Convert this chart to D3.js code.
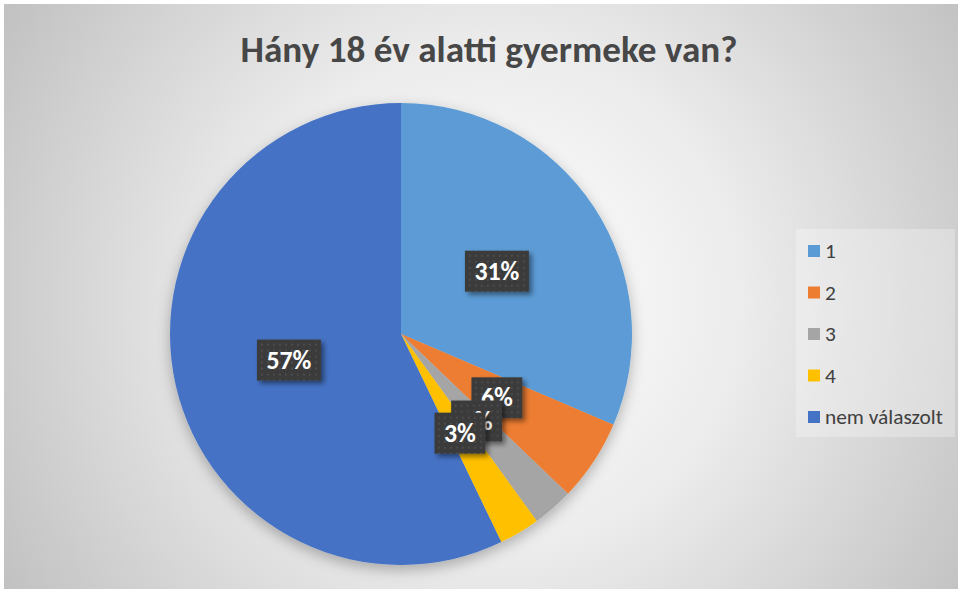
<!DOCTYPE html>
<html lang="hu">
<head>
<meta charset="UTF-8" />
<title>Hány 18 év alatti gyermeke van?</title>
<script src="https://d3js.org/d3.v7.min.js"></script>
<style>
  body { margin: 0; background: #fff; }
  svg { display: block; }
  text { font-family: Carlito, Calibri, Lato, "Open Sans", sans-serif; }
</style>
</head>
<body>
<svg id="chart"></svg>
<script>
// data (answers counted per category)
const categories = ["1", "2", "3", "4", "nem válaszolt"];
const counts = [11, 2, 1, 1, 20];
const colors = ["#5B9BD5", "#ED7D31", "#A5A5A5", "#FFC000", "#4472C4"];
const title = "Hány 18 év alatti gyermeke van?";

const W = 958, H = 589;
const cx = 401, cy = 334, radius = 231;

const svg = d3.select("#chart").attr("width", W).attr("height", H);
const defs = svg.append("defs");

// background gradient
const bg = defs.append("radialGradient")
  .attr("id", "bg")
  .attr("gradientUnits", "userSpaceOnUse")
  .attr("cx", 490).attr("cy", 300).attr("r", 560);
bg.append("stop").attr("offset", "0%").attr("stop-color", "#ffffff");
bg.append("stop").attr("offset", "45%").attr("stop-color", "#ececec");
bg.append("stop").attr("offset", "100%").attr("stop-color", "#c2c2c2");

// pie shadow
const pieShadow = defs.append("filter").attr("id", "pieShadow")
  .attr("x", "-20%").attr("y", "-20%").attr("width", "140%").attr("height", "140%");
pieShadow.append("feDropShadow")
  .attr("dx", 0).attr("dy", 5).attr("stdDeviation", 7)
  .attr("flood-color", "#000").attr("flood-opacity", 0.28);

// label shadow
const labShadow = defs.append("filter").attr("id", "labShadow")
  .attr("x", "-30%").attr("y", "-30%").attr("width", "170%").attr("height", "170%");
labShadow.append("feDropShadow")
  .attr("dx", 3).attr("dy", 3).attr("stdDeviation", 2.5)
  .attr("flood-color", "#000").attr("flood-opacity", 0.45);

// dotted label fill
const pat = defs.append("pattern").attr("id", "dots")
  .attr("patternUnits", "userSpaceOnUse").attr("width", 6).attr("height", 6);
pat.append("rect").attr("width", 6).attr("height", 6).attr("fill", "#3b3b3b");
pat.append("circle").attr("cx", 3).attr("cy", 3).attr("r", 1).attr("fill", "#505050");

svg.append("rect")
  .attr("x", 4).attr("y", 4).attr("width", W - 4).attr("height", H - 4)
  .attr("fill", "url(#bg)");

// title, fitted to the width of the original heading
const titleText = svg.append("text")
  .attr("x", 489).attr("y", 62)
  .attr("text-anchor", "middle")
  .attr("font-weight", "bold")
  .attr("font-size", 29)
  .attr("fill", "#474747")
  .text(title);
const tw = titleText.node().getComputedTextLength();
titleText.attr("font-size", 29 * 497 / tw);

// pie
const total = d3.sum(counts);
const pct = d3.format(".0%");
const pie = d3.pie().sort(null).value(d => d);
const arcs = pie(counts);
const arc = d3.arc().innerRadius(0).outerRadius(radius);
const labelArc = d3.arc().innerRadius(0).outerRadius(radius * 0.995);

const g = svg.append("g").attr("transform", `translate(${cx},${cy})`);
g.append("g").attr("filter", "url(#pieShadow)")
  .selectAll("path")
  .data(arcs)
  .join("path")
  .attr("d", arc)
  .attr("fill", (d, i) => colors[i]);

// data labels: size font so "57%" is ~45px wide like the original
const probe = svg.append("text").attr("font-size", 22).attr("font-weight", "bold").text("57%");
const labFont = 22 * 45 / probe.node().getComputedTextLength();
probe.remove();

const labels = g.selectAll("g.lab")
  .data(arcs)
  .join("g")
  .attr("class", "lab")
  .attr("transform", d => `translate(${labelArc.centroid(d)})`);

labels.each(function(d) {
  const sel = d3.select(this);
  const box = sel.append("rect").attr("fill", "url(#dots)").attr("filter", "url(#labShadow)");
  const t = sel.append("text")
    .attr("text-anchor", "middle")
    .attr("dy", "0.35em")
    .attr("font-size", labFont)
    .attr("font-weight", "bold")
    .attr("fill", "#fff")
    .text(pct(d.value / total));
  const w = t.node().getComputedTextLength() + 19;
  box.attr("x", -w / 2).attr("y", -20).attr("width", w).attr("height", 41);
});

// legend
const legend = svg.append("g");
legend.append("rect")
  .attr("x", 796).attr("y", 229).attr("width", 159).attr("height", 208)
  .attr("fill", "#ffffff").attr("opacity", 0.28);

const ly = d3.scalePoint().domain(categories).range([251, 417]);
const items = legend.selectAll("g.item")
  .data(categories)
  .join("g")
  .attr("class", "item")
  .attr("transform", d => `translate(808,${ly(d)})`);
items.append("rect")
  .attr("x", 0).attr("y", -6).attr("width", 12).attr("height", 12)
  .attr("fill", (d, i) => colors[i]);
const legText = items.append("text")
  .attr("x", 17).attr("dy", "0.35em")
  .attr("font-size", 17)
  .attr("fill", "#404040")
  .text(d => d);
const lw = legText.filter(d => d === "nem válaszolt").node().getComputedTextLength();
legText.attr("font-size", 17 * 118 / lw);
</script>
</body>
</html>
